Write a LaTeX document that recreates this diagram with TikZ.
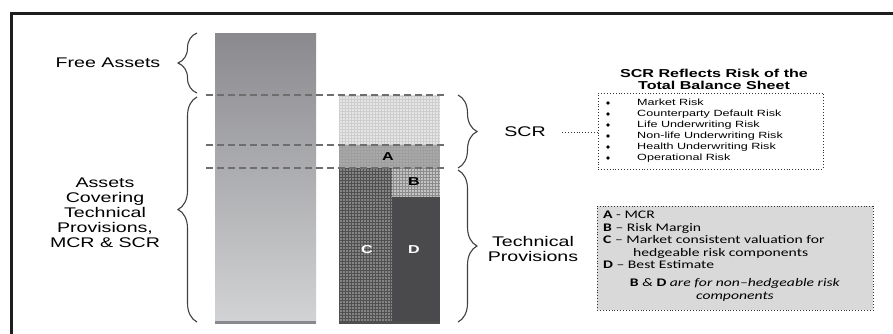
\documentclass[tikz,border=0pt]{standalone}
\usepackage{fontspec}
\setmainfont{Liberation Sans}[FakeStretch=1.4]
\newfontfamily\legfont{Carlito}[FakeStretch=1.35]
\usetikzlibrary{decorations.pathreplacing}
\definecolor{framecol}{HTML}{1E1E1E}
\definecolor{bracegray}{HTML}{404040}
\definecolor{dashgray}{HTML}{6E6E6E}
\definecolor{bartop}{HTML}{8A8A8E}
\definecolor{barbot}{HTML}{D2D3D5}
\definecolor{lightfill}{HTML}{E6E6E6}
\definecolor{lightgrid}{HTML}{CDCDCD}
\definecolor{afill}{HTML}{A9A9A9}
\definecolor{agrid}{HTML}{9E9E9E}
\definecolor{cfill}{HTML}{858585}
\definecolor{cgrid}{HTML}{505050}
\definecolor{bfill}{HTML}{C4C4C4}
\definecolor{bgrid}{HTML}{8C8C8C}
\definecolor{dfill}{HTML}{4A4A4C}
\definecolor{legfill}{HTML}{D9D9D9}
\definecolor{dotcol}{HTML}{333333}
\begin{document}
\begin{tikzpicture}[x=1pt,y=-1pt,
  bigtext/.style={font=\fontsize{14}{15}\selectfont, align=center, inner sep=0pt},
  bracestyle/.style={decorate, decoration={brace, amplitude=19pt}, draw=bracegray, line width=1.1pt},
  dashline/.style={draw=dashgray, line width=1.5pt, dash pattern=on 7pt off 4pt},
  barlabel/.style={font=\bfseries\fontsize{11.5}{12}\selectfont, inner sep=0pt},
  dotbox/.style={draw=dotcol, dotted, line width=0.9pt, inner sep=0pt},
  gridlines/.style={line width=0.5pt}
]
\useasboundingbox (0,0) rectangle (893,333);
\fill[white] (0,0) rectangle (893,333);
% frame
\draw[framecol, line width=3pt] (11,340) -- (11,13) -- (900,13);
% tall bar
\shade[top color=bartop, bottom color=barbot] (215,33) rectangle (316,322);
\fill[bartop] (215,320.5) rectangle (316,323.5);
% right bar: SCR part
\fill[lightfill] (339,95) rectangle (440,145);
\draw[lightgrid, gridlines, step=3pt] (339,145) grid (440,95);
% A
\fill[afill] (339,145) rectangle (440,168);
\draw[agrid, line width=0.3pt, step=3pt] (339,168) grid (440,145);
% C
\fill[cfill] (339,168) rectangle (392,323);
\draw[cgrid, line width=0.6pt, step=3pt] (339,323) grid (392,168);
% B
\fill[bfill] (392,168) rectangle (440,197);
\draw[bgrid, line width=0.5pt, step=3pt] (392,197) grid (440,168);
% D
\fill[dfill] (392,197) rectangle (440,323);
\fill[cgrid] (339,321.5) rectangle (440,323.5);
% dashed lines
\draw[dashline] (206,95) -- (447,95);
\draw[dashline] (206,145) -- (447,145);
\draw[dashline] (206,168) -- (447,168);
% bar labels
\node[barlabel] (la) at (388,157) {A};
\node[barlabel] (lb) at (414,182) {B};
\node[barlabel, text=white] (lc) at (367,250) {C};
\node[barlabel, text=white] (ld) at (414,250) {D};
% braces
\draw[bracestyle] (197,93) -- (197,33);
\draw[bracestyle] (197,322) -- (197,97);
\draw[bracestyle] (458,95) -- (458,168);
\draw[bracestyle] (458,170) -- (458,322);
% left labels
\node[bigtext] (free) at (108,63) {Free Assets};
\node[bigtext] (covering) at (105,213) {Assets\\Covering\\Technical\\Provisions,\\MCR \& SCR};
\node[bigtext] (scr) at (525,132) {SCR};
\node[bigtext] (tp) at (533,249) {Technical\\Provisions};
% SCR risks box
\node[font=\bfseries\fontsize{11.5}{12}\selectfont, align=center, inner sep=0pt] (title) at (714,79) {SCR Reflects Risk of the\\Total Balance Sheet};
\node[dotbox, minimum width=225pt, minimum height=76pt] (risks) at (710.5,131) {};
\foreach \i in {0,...,5} \fill[black] (608,103+11*\i) circle[radius=1.8pt];
\node[anchor=north west, inner sep=0pt, align=left, font=\fontsize{9}{11}\selectfont] (risklist) at (637,98.6)
 {Market Risk\\
 Counterparty Default Risk\\
 Life Underwriting Risk\\
 Non-life Underwriting Risk\\
 Health Underwriting Risk\\
 Operational Risk};
\coordinate (scrdot) at (562,132);
\draw[dotcol, dotted, line width=0.9pt] (scrdot) -- (scrdot -| risks.west);
% legend box
\node[dotbox, fill=legfill, minimum width=276pt, minimum height=104pt] (legend) at (735,258) {};
\node[anchor=north west, inner sep=0pt, font=\legfont\fontsize{11.6}{12.5}\selectfont] (legtext) at (603,210)
 {\begin{tabular}{@{}l@{}}
 \textbf{A} - MCR\\
 \textbf{B} – Risk Margin\\
 \textbf{C} – Market consistent valuation for\\
 \hspace*{30pt}hedgeable risk components\\
 \textbf{D} – Best Estimate
 \end{tabular}};
\node[inner sep=0pt, align=center, font=\legfont\fontsize{11.6}{12.5}\selectfont] (legnote) at (735,290)
 {\textbf{B} \textit{\&} \textbf{D} \textit{are for non–hedgeable risk}\\\textit{components}};
\end{tikzpicture}
\end{document}
